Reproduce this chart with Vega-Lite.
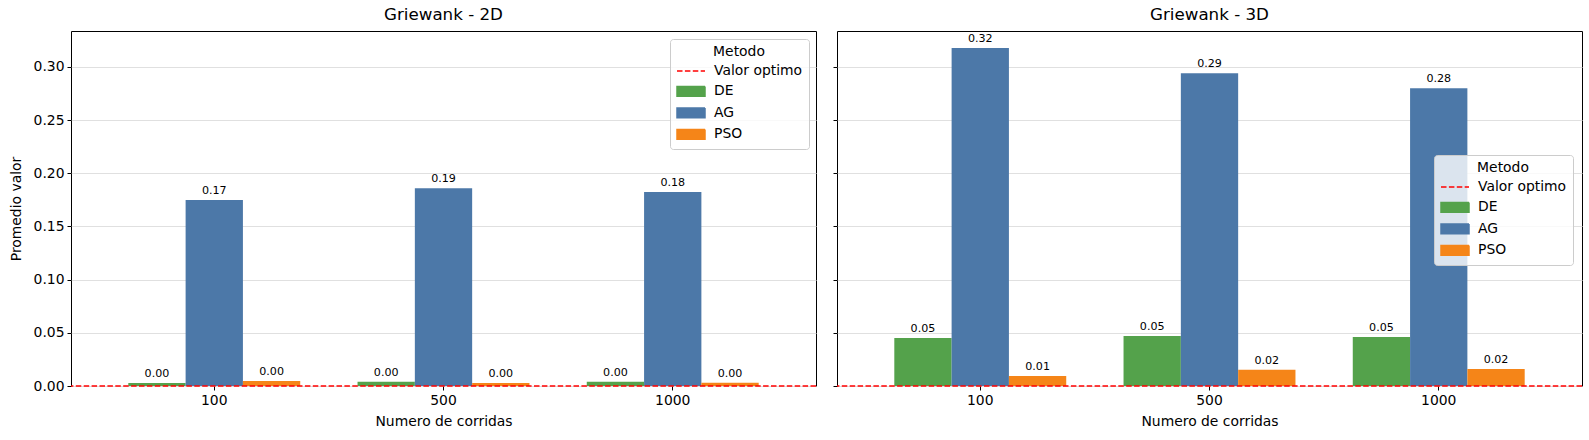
{
  "$schema": "https://vega.github.io/schema/vega-lite/v6.json",
  "padding": {"left": 8, "top": 6, "right": 8, "bottom": 5},
  "background": "white",
  "config": {
    "font": "DejaVu Sans",
    "view": {"stroke": "black", "strokeWidth": 1},
    "axis": {
      "domain": false,
      "tickColor": "black",
      "tickSize": 4,
      "labelFontSize": 13.9,
      "labelColor": "black",
      "labelPadding": 3,
      "titleFontSize": 13.9,
      "titleFontWeight": "normal",
      "titleColor": "black"
    },
    "title": {"fontSize": 16.7, "fontWeight": "normal", "color": "black", "offset": 7, "frame": "group"},
    "legend": {
      "titleFontSize": 13.9,
      "titleFontWeight": "normal",
      "titleColor": "black",
      "titleAnchor": "middle",
      "titlePadding": 4,
      "labelFontSize": 13.9,
      "labelColor": "black",
      "labelOffset": 22,
      "symbolSize": 196,
      "rowPadding": 5.5,
      "padding": 6,
      "strokeColor": "#cccccc",
      "fillColor": "rgba(255,255,255,0.8)",
      "cornerRadius": 3
    }
  },
  "data": {
    "values": [
      {"dim": "2D", "corridas": "100", "metodo": "DE", "valor": 0.0028},
      {"dim": "2D", "corridas": "100", "metodo": "AG", "valor": 0.1748},
      {"dim": "2D", "corridas": "100", "metodo": "PSO", "valor": 0.0047},
      {"dim": "2D", "corridas": "500", "metodo": "DE", "valor": 0.004},
      {"dim": "2D", "corridas": "500", "metodo": "AG", "valor": 0.186},
      {"dim": "2D", "corridas": "500", "metodo": "PSO", "valor": 0.0028},
      {"dim": "2D", "corridas": "1000", "metodo": "DE", "valor": 0.004},
      {"dim": "2D", "corridas": "1000", "metodo": "AG", "valor": 0.1823},
      {"dim": "2D", "corridas": "1000", "metodo": "PSO", "valor": 0.003},
      {"dim": "3D", "corridas": "100", "metodo": "DE", "valor": 0.0451},
      {"dim": "3D", "corridas": "100", "metodo": "AG", "valor": 0.3177},
      {"dim": "3D", "corridas": "100", "metodo": "PSO", "valor": 0.0094},
      {"dim": "3D", "corridas": "500", "metodo": "DE", "valor": 0.047},
      {"dim": "3D", "corridas": "500", "metodo": "AG", "valor": 0.294},
      {"dim": "3D", "corridas": "500", "metodo": "PSO", "valor": 0.0153},
      {"dim": "3D", "corridas": "1000", "metodo": "DE", "valor": 0.046},
      {"dim": "3D", "corridas": "1000", "metodo": "AG", "valor": 0.28},
      {"dim": "3D", "corridas": "1000", "metodo": "PSO", "valor": 0.016}
    ]
  },
  "spacing": 14,
  "resolve": {"legend": {"color": "independent"}},
  "hconcat": [
    {
      "title": "Griewank - 2D",
      "width": 745,
      "height": 355,
      "layer": [
        {
          "transform": [{"filter": "datum.dim === '2D'"}],
          "mark": {"type": "bar"},
          "encoding": {
            "x": {"field": "corridas", "type": "ordinal", "sort": ["100", "500", "1000"], "scale": {"paddingInner": 0.25, "paddingOuter": 0.25}, "axis": {"labelAngle": 0, "grid": false, "title": "Numero de corridas", "titlePadding": 8}},
            "xOffset": {"field": "metodo", "type": "nominal", "sort": ["DE", "AG", "PSO"], "scale": {"paddingInner": 0, "paddingOuter": 0}},
            "y": {"field": "valor", "type": "quantitative", "scale": {"domain": [0, 0.3337], "nice": false}, "axis": {"values": [0, 0.05, 0.1, 0.15, 0.2, 0.25, 0.3], "format": ".2f", "title": "Promedio valor", "grid": true, "gridColor": "#e0e0e0", "titlePadding": 10}},
            "color": {
              "field": "metodo",
              "type": "nominal",
              "scale": {"domain": ["Valor optimo", "DE", "AG", "PSO"], "range": ["#ff0000", "#54a24b", "#4c78a8", "#f58518"]},
              "legend": {
                "title": "Metodo",
                "orient": "none",
                "legendX": 599,
                "legendY": 8,
                "encode": {"symbols": {"update": {
                  "shape": {"signal": "datum.value === 'Valor optimo' ? 'M-1,0H3' : 'M-1,-0.7H3V0.7H-1Z'"},
                  "fill": {"signal": "datum.value === 'Valor optimo' ? 'transparent' : datum.value === 'DE' ? '#54a24b' : datum.value === 'AG' ? '#4c78a8' : '#f58518'"},
                  "stroke": {"signal": "datum.value === 'Valor optimo' ? '#ff0000' : 'transparent'"},
                  "strokeDash": {"signal": "datum.value === 'Valor optimo' ? [5.5, 2.4] : [1, 0]"},
                  "strokeWidth": {"value": 1.5},
                  "size": {"value": 196},
                  "opacity": {"value": 1},
                  "fillOpacity": {"value": 1},
                  "strokeOpacity": {"value": 1}
                }}}
              }
            }
          }
        },
        {
          "data": {"values": [{"metodo": "Valor optimo"}]},
          "mark": {"type": "rule", "strokeDash": [5.5, 2.4], "strokeWidth": 1.5},
          "encoding": {
            "y": {"datum": 0},
            "color": {"field": "metodo", "type": "nominal"}
          }
        },
        {
          "transform": [{"filter": "datum.dim === '2D'"}],
          "mark": {"type": "text", "baseline": "bottom", "dy": -4, "fontSize": 11.1, "color": "black"},
          "encoding": {
            "x": {"field": "corridas", "type": "ordinal", "sort": ["100", "500", "1000"]},
            "xOffset": {"field": "metodo", "type": "nominal", "sort": ["DE", "AG", "PSO"]},
            "y": {"field": "valor", "type": "quantitative"},
            "text": {"field": "valor", "type": "quantitative", "format": ".2f"}
          }
        }
      ]
    },
    {
      "title": "Griewank - 3D",
      "width": 745,
      "height": 355,
      "layer": [
        {
          "transform": [{"filter": "datum.dim === '3D'"}],
          "mark": {"type": "bar"},
          "encoding": {
            "x": {"field": "corridas", "type": "ordinal", "sort": ["100", "500", "1000"], "scale": {"paddingInner": 0.25, "paddingOuter": 0.25}, "axis": {"labelAngle": 0, "grid": false, "title": "Numero de corridas", "titlePadding": 8}},
            "xOffset": {"field": "metodo", "type": "nominal", "sort": ["DE", "AG", "PSO"], "scale": {"paddingInner": 0, "paddingOuter": 0}},
            "y": {"field": "valor", "type": "quantitative", "scale": {"domain": [0, 0.3337], "nice": false}, "axis": {"values": [0, 0.05, 0.1, 0.15, 0.2, 0.25, 0.3], "labels": false, "title": null, "grid": true, "gridColor": "#e0e0e0"}},
            "color": {
              "field": "metodo",
              "type": "nominal",
              "scale": {"domain": ["Valor optimo", "DE", "AG", "PSO"], "range": ["#ff0000", "#54a24b", "#4c78a8", "#f58518"]},
              "legend": {
                "title": "Metodo",
                "orient": "none",
                "legendX": 597,
                "legendY": 124,
                "encode": {"symbols": {"update": {
                  "shape": {"signal": "datum.value === 'Valor optimo' ? 'M-1,0H3' : 'M-1,-0.7H3V0.7H-1Z'"},
                  "fill": {"signal": "datum.value === 'Valor optimo' ? 'transparent' : datum.value === 'DE' ? '#54a24b' : datum.value === 'AG' ? '#4c78a8' : '#f58518'"},
                  "stroke": {"signal": "datum.value === 'Valor optimo' ? '#ff0000' : 'transparent'"},
                  "strokeDash": {"signal": "datum.value === 'Valor optimo' ? [5.5, 2.4] : [1, 0]"},
                  "strokeWidth": {"value": 1.5},
                  "size": {"value": 196},
                  "opacity": {"value": 1},
                  "fillOpacity": {"value": 1},
                  "strokeOpacity": {"value": 1}
                }}}
              }
            }
          }
        },
        {
          "data": {"values": [{"metodo": "Valor optimo"}]},
          "mark": {"type": "rule", "strokeDash": [5.5, 2.4], "strokeWidth": 1.5},
          "encoding": {
            "y": {"datum": 0},
            "color": {"field": "metodo", "type": "nominal"}
          }
        },
        {
          "transform": [{"filter": "datum.dim === '3D'"}],
          "mark": {"type": "text", "baseline": "bottom", "dy": -4, "fontSize": 11.1, "color": "black"},
          "encoding": {
            "x": {"field": "corridas", "type": "ordinal", "sort": ["100", "500", "1000"]},
            "xOffset": {"field": "metodo", "type": "nominal", "sort": ["DE", "AG", "PSO"]},
            "y": {"field": "valor", "type": "quantitative"},
            "text": {"field": "valor", "type": "quantitative", "format": ".2f"}
          }
        }
      ]
    }
  ]
}
